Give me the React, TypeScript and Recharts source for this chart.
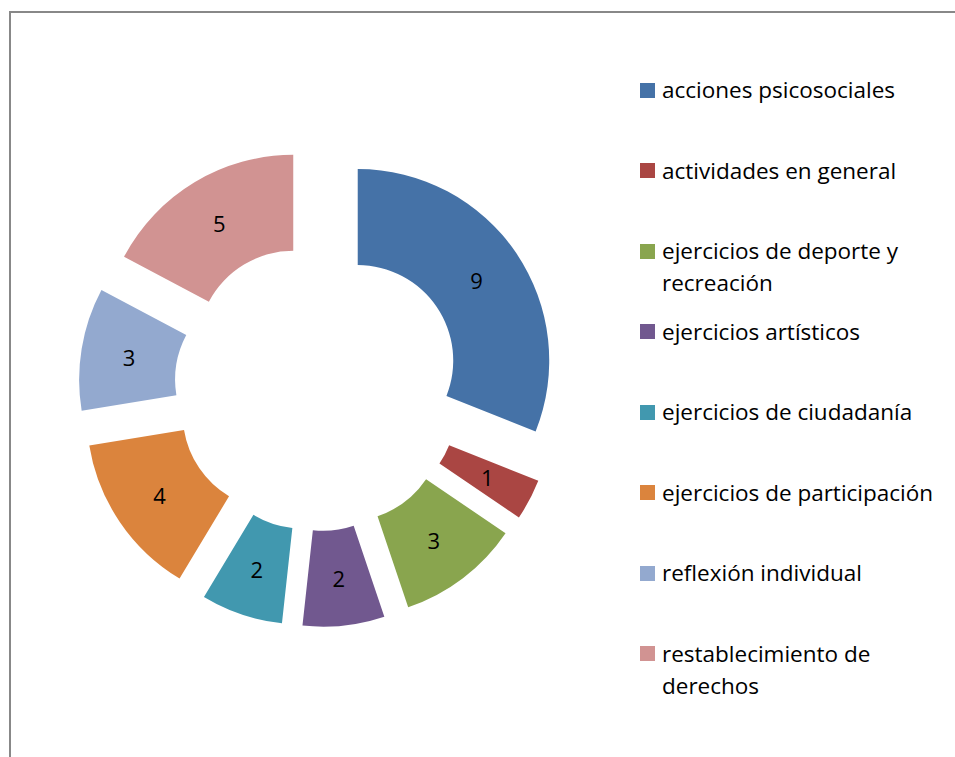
import { Legend, Pie, PieChart, Sector } from "recharts";

const CATEGORIES = [
  "acciones psicosociales",
  "actividades en general",
  "ejercicios de deporte y recreación",
  "ejercicios artísticos",
  "ejercicios de ciudadanía",
  "ejercicios de participación",
  "reflexión individual",
  "restablecimiento de derechos",
];
const VALUES = [9, 1, 3, 2, 2, 4, 3, 5];
const COLORS = [
  "#4572A7",
  "#AA4643",
  "#89A54E",
  "#71588F",
  "#4198AF",
  "#DB843D",
  "#93A9CF",
  "#D19392",
];

const data = CATEGORIES.map((name, i) => ({ name, value: VALUES[i] }));

const FONT = "'Open Sans', 'Noto Sans', sans-serif";
const RAD = Math.PI / 180;
const EXPLODE = 48;

// each slice is pushed out along its mid angle, like Excel's exploded doughnut
function ExplodedSlice(props: any) {
  const { cx, cy, innerRadius, outerRadius, startAngle, endAngle, midAngle, index, value } = props;
  const ux = Math.cos(-midAngle * RAD);
  const uy = Math.sin(-midAngle * RAD);
  const ox = cx + EXPLODE * ux;
  const oy = cy + EXPLODE * uy;
  const mid = (innerRadius + outerRadius) / 2;
  return (
    <g>
      <Sector
        cx={ox}
        cy={oy}
        innerRadius={innerRadius}
        outerRadius={outerRadius}
        startAngle={startAngle}
        endAngle={endAngle}
        fill={COLORS[index % COLORS.length]}
        stroke="none"
      />
      <text
        x={ox + mid * ux}
        y={oy + mid * uy}
        textAnchor="middle"
        dominantBaseline="central"
        fontFamily={FONT}
        fontSize={22}
        fill="#000"
      >
        {value}
      </text>
    </g>
  );
}

function LegendList() {
  return (
    <div style={{ fontFamily: FONT, fontSize: 22.5, lineHeight: "32px", color: "#000" }}>
      {CATEGORIES.map((name, i) => (
        <div key={name} style={{ display: "flex", height: 80.5, alignItems: "flex-start" }}>
          <div
            style={{
              width: 15,
              height: 15,
              marginTop: 8.5,
              marginRight: 7,
              flex: "none",
              background: COLORS[i],
            }}
          />
          <div style={{ width: 285 }}>{name}</div>
        </div>
      ))}
    </div>
  );
}

export default function App() {
  return (
    <div style={{ position: "relative", width: 955, height: 757, overflow: "hidden", background: "#fff" }}>
      <style>{`body{margin:0;overflow:hidden}`}</style>
      <div
        style={{
          position: "absolute",
          left: 9,
          top: 11,
          width: 1000,
          height: 800,
          borderLeft: "2px solid #888",
          borderTop: "2px solid #888",
        }}
      />
      <div style={{ position: "absolute", left: 0, top: 0 }}>
        <PieChart width={955} height={757} margin={{ top: 0, right: 0, bottom: 0, left: 0 }}>
          <Pie
            data={data}
            dataKey="value"
            nameKey="name"
            cx={318}
            cy={387.5}
            innerRadius={95.5}
            outerRadius={191.5}
            startAngle={90}
            endAngle={-270}
            fill="none"
            stroke="none"
            label={ExplodedSlice}
            labelLine={false}
            isAnimationActive={false}
          />
          <Legend
            layout="vertical"
            align="right"
            verticalAlign="top"
            wrapperStyle={{ left: 640, top: 74, width: 310 }}
            content={() => <LegendList />}
          />
        </PieChart>
      </div>
    </div>
  );
}
